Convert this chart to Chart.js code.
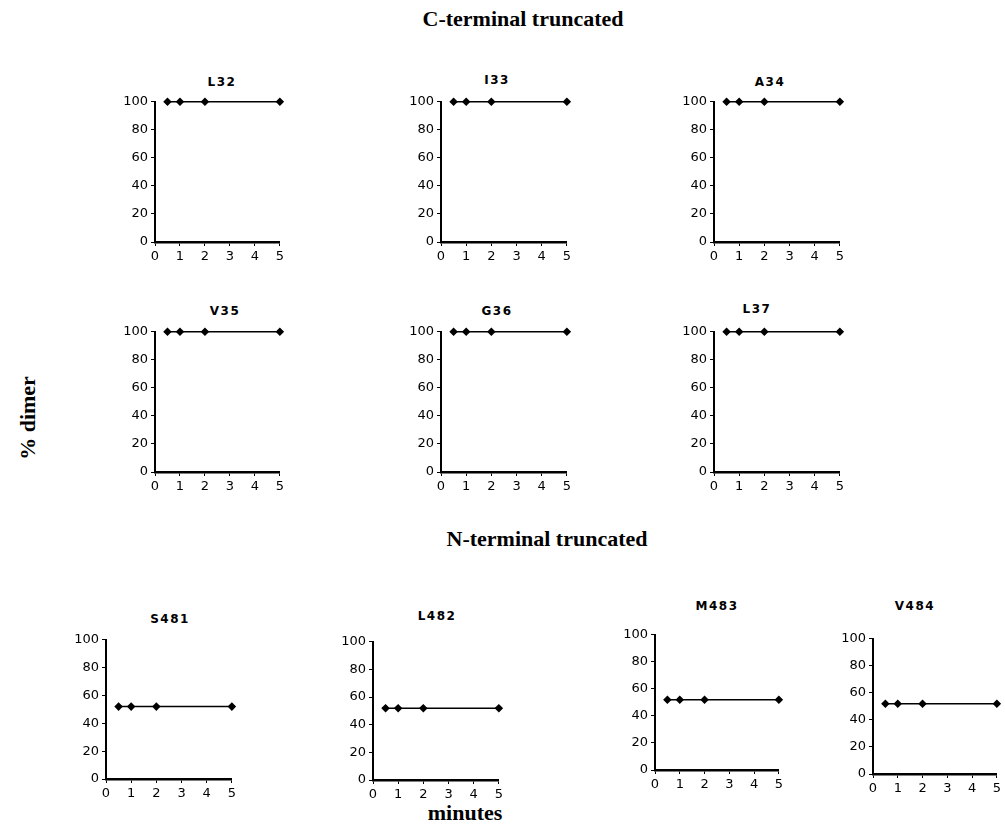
<!DOCTYPE html>
<html>
<head>
<meta charset="utf-8">
<script src="https://cdn.jsdelivr.net/npm/chart.js@4"></script>
<style>
  body { margin: 0; background: #fff; width: 1005px; height: 833px; position: relative; overflow: hidden; }
  .box { position: absolute; }
  .head { position: absolute; font-family: "Liberation Serif", serif; font-weight: bold; font-size: 22px; color: #000; white-space: nowrap; transform: translateX(-50%); }
  .ptitle { position: absolute; font-family: "DejaVu Sans", sans-serif; font-weight: bold; font-size: 12px; letter-spacing: 1.5px; color: #000; transform: translateX(-50%); }
  #ylab { position: absolute; left: 28px; top: 418px; }
</style>
</head>
<body>
<div class="head" style="left:523px;top:6px">C-terminal truncated</div>
<div class="head" style="left:547px;top:526px">N-terminal truncated</div>
<div class="head" style="left:465px;top:800px">minutes</div>
<div class="head" id="ylab" style="transform:translate(-50%,-50%) rotate(-90deg)">% dimer</div>
<script>
// 时间点（分钟）与各突变体的二聚体百分比
const times = [0.5, 1, 2, 5];
const xTicks = [0, 1, 2, 3, 4, 5];
const yTicks = [0, 20, 40, 60, 80, 100];

const dimerL32 = [100, 100, 100, 100];
const dimerI33 = [100, 100, 100, 100];
const dimerA34 = [100, 100, 100, 100];
const dimerV35 = [100, 100, 100, 100];
const dimerG36 = [100, 100, 100, 100];
const dimerL37 = [100, 100, 100, 100];
const dimerS481 = [52, 52, 52, 52];
const dimerL482 = [52, 52, 52, 52];
const dimerM483 = [52, 52, 52, 52];
const dimerV484 = [52, 52, 52, 52];

// 面板位置：x0/x5 为横轴 0 和 5 的像素位置，y100/y0 为纵轴 100 和 0
const panels = [
  {name: 'L32',  data: dimerL32,  x0: 155, x5: 281, y100: 99,  y0: 242, tx: 222, ty: 75},
  {name: 'I33',  data: dimerI33,  x0: 441, x5: 568, y100: 99,  y0: 242, tx: 497, ty: 73},
  {name: 'A34',  data: dimerA34,  x0: 714, x5: 841, y100: 99,  y0: 242, tx: 770, ty: 75},
  {name: 'V35',  data: dimerV35,  x0: 155, x5: 281, y100: 329, y0: 472, tx: 225, ty: 304},
  {name: 'G36',  data: dimerG36,  x0: 441, x5: 568, y100: 329, y0: 472, tx: 497, ty: 304},
  {name: 'L37',  data: dimerL37,  x0: 714, x5: 841, y100: 329, y0: 472, tx: 757, ty: 302},
  {name: 'S481', data: dimerS481, x0: 106, x5: 233, y100: 637, y0: 779, tx: 170, ty: 612},
  {name: 'L482', data: dimerL482, x0: 373, x5: 500, y100: 639, y0: 780, tx: 437, ty: 609},
  {name: 'M483', data: dimerM483, x0: 655, x5: 780, y100: 632, y0: 770, tx: 717, ty: 599},
  {name: 'V484', data: dimerV484, x0: 873, x5: 998, y100: 636, y0: 774, tx: 915, ty: 599}
];

const YW = 44, XH = 26, PT = 8, PR = 6;
const tickFont = {family: 'DejaVu Sans', size: 13};

function makePanel(p) {
  const box = document.createElement('div');
  box.className = 'box';
  const w = YW + (p.x5 - p.x0) + PR;
  const h = PT + (p.y0 - p.y100) + XH;
  box.style.left = (p.x0 - YW) + 'px';
  box.style.top = (p.y100 - PT) + 'px';
  box.style.width = w + 'px';
  box.style.height = h + 'px';
  const cv = document.createElement('canvas');
  box.appendChild(cv);
  document.body.appendChild(box);

  const t = document.createElement('div');
  t.className = 'ptitle';
  t.textContent = p.name;
  t.style.left = p.tx + 'px';
  t.style.top = p.ty + 'px';
  document.body.appendChild(t);

  new Chart(cv, {
    type: 'line',
    data: {
      datasets: [{
        data: times.map((x, i) => ({x, y: p.data[i]})),
        borderColor: '#000', borderWidth: 1.5,
        pointRadius: 3.2, pointBackgroundColor: '#000', pointBorderColor: '#000',
        pointStyle: 'rectRot', clip: false, tension: 0
      }]
    },
    options: {
      responsive: true, maintainAspectRatio: false, animation: false,
      layout: {padding: {top: PT, right: PR, left: 0, bottom: 0}},
      plugins: {legend: {display: false}, tooltip: {enabled: false}},
      scales: {
        x: {
          type: 'linear', min: 0, max: 5,
          afterFit: s => { s.height = XH; },
          afterBuildTicks: s => { s.ticks = xTicks.map(v => ({value: v})); },
          border: {color: '#000', width: 2.5},
          grid: {drawOnChartArea: false, color: '#000', tickLength: 4, lineWidth: 1},
          ticks: {color: '#000', font: tickFont, padding: 3, maxRotation: 0}
        },
        y: {
          min: 0, max: 100,
          afterFit: s => { s.width = YW; },
          ticks: {stepSize: 10, color: '#000', font: tickFont, padding: 3,
            callback: v => yTicks.includes(v) ? v : ''},
          border: {color: '#000', width: 2},
          grid: {drawOnChartArea: false, color: '#000', tickLength: 4, lineWidth: 1}
        }
      }
    }
  });
}

panels.forEach(makePanel);
</script>
</body>
</html>
